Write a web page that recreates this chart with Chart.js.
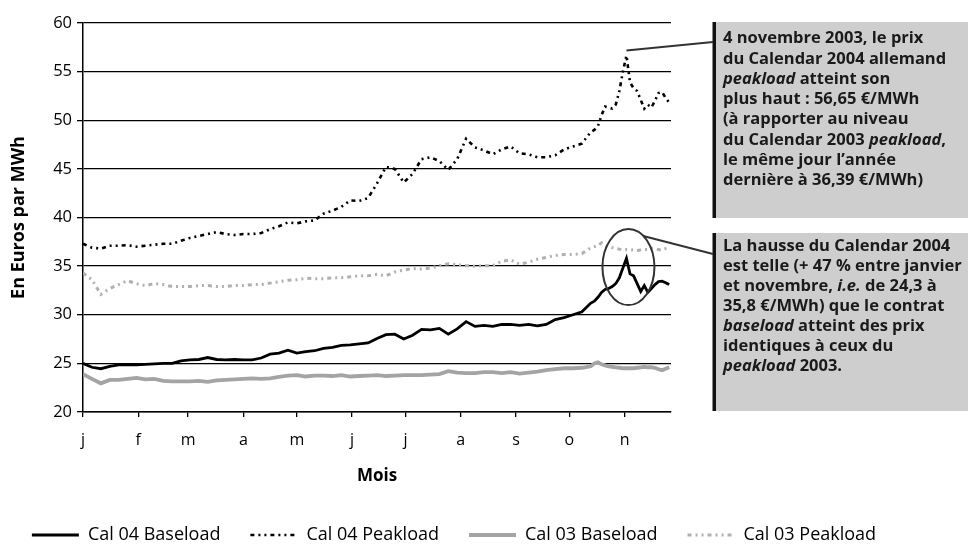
<!DOCTYPE html>
<html>
<head>
<meta charset="utf-8">
<script src="https://cdn.jsdelivr.net/npm/chart.js@4.4.1/dist/chart.umd.min.js"></script>
<style>
  html, body { margin: 0; padding: 0; background: #fff; }
  #chart { display: block; }
</style>
</head>
<body>
<canvas id="chart" width="968" height="546"></canvas>
<script>
// day of year 2003 (0 = 1 Jan)
const days = [
  0, 5, 10, 15, 20, 25, 30, 35, 40, 45,
  50, 55, 60, 65, 70, 75, 80, 85, 90, 95,
  100, 105, 110, 115, 120, 125, 130, 135, 140, 145,
  150, 155, 160, 165, 170, 175, 180, 185, 190, 195,
  200, 205, 210, 215, 220, 225, 230, 235, 240, 245,
  250, 255, 260, 265, 270, 275, 280, 285,
  287, 289, 291, 293, 295, 297, 299, 301, 303, 305,
  307, 309, 311, 313, 315, 317, 319, 321, 323, 325, 327, 329
];

const cal04Base = [
  25.0, 24.6, 24.45, 24.7, 24.85, 24.85, 24.85, 24.9, 24.95, 25.0,
  25.0, 25.25, 25.35, 25.4, 25.6, 25.4, 25.35, 25.4, 25.35, 25.35,
  25.55, 25.95, 26.05, 26.35, 26.05, 26.2, 26.3, 26.55, 26.65, 26.85,
  26.9, 27.0, 27.1, 27.55, 27.95, 28.0, 27.5, 27.9, 28.5, 28.45,
  28.6, 28.0, 28.55, 29.3, 28.8, 28.9, 28.8, 29.0, 29.0, 28.9,
  29.0, 28.85, 29.0, 29.5, 29.7, 30.0, 30.3, 31.2,
  31.4, 31.8, 32.3, 32.6, 32.7, 32.9, 33.2, 33.8, 34.8, 35.8,
  34.2, 34.0, 33.2, 32.4, 33.0, 32.3, 32.7, 33.1, 33.4, 33.45, 33.3, 33.1
];

const cal04Peak = [
  37.3, 36.9, 36.8, 37.1, 37.1, 37.15, 37.0, 37.1, 37.2, 37.3,
  37.3, 37.6, 37.9, 38.1, 38.3, 38.5, 38.3, 38.2, 38.3, 38.3,
  38.4, 38.8, 39.1, 39.5, 39.4, 39.6, 39.7, 40.4, 40.7, 41.1,
  41.75, 41.7, 42.0, 43.5, 45.2, 45.0, 43.6, 44.5, 46.0, 46.2,
  45.8, 44.9, 46.0, 48.1, 47.2, 46.9, 46.5, 47.0, 47.3, 46.6,
  46.5, 46.2, 46.2, 46.4, 47.0, 47.3, 47.6, 48.8,
  49.0, 49.4, 50.5, 51.4, 51.3, 51.2, 51.6, 53.0, 55.0, 56.65,
  53.9, 53.3, 53.0, 52.1, 51.2, 51.6, 51.3, 52.0, 52.8, 52.9, 52.3, 51.8
];

const cal03Base = [
  23.9, 23.4, 22.95, 23.3, 23.3, 23.4, 23.5, 23.35, 23.4, 23.2,
  23.15, 23.15, 23.15, 23.2, 23.1, 23.25, 23.3, 23.35, 23.4, 23.45,
  23.4, 23.45, 23.6, 23.75, 23.8, 23.65, 23.75, 23.75, 23.7, 23.8,
  23.65, 23.7, 23.75, 23.8, 23.7, 23.75, 23.8, 23.8, 23.8, 23.85,
  23.9, 24.2, 24.05, 24.0, 24.0, 24.1, 24.1, 24.0, 24.1, 23.95,
  24.05, 24.15, 24.3, 24.4, 24.5, 24.5, 24.55, 24.7,
  25.0, 25.1, 24.9, 24.8, 24.7, 24.65, 24.6, 24.55, 24.5, 24.5,
  24.5, 24.5, 24.55, 24.6, 24.65, 24.6, 24.6, 24.55, 24.4, 24.3, 24.45, 24.6
];

const cal03Peak = [
  34.3, 33.6, 32.1, 32.7, 33.1, 33.5, 33.2, 33.0, 33.2, 33.1,
  32.9, 32.9, 32.9, 33.0, 33.0, 32.9, 32.9, 33.0, 33.0, 33.1,
  33.1, 33.25, 33.4, 33.55, 33.6, 33.75, 33.7, 33.7, 33.8, 33.8,
  33.9, 34.0, 34.0, 34.15, 34.0, 34.4, 34.6, 34.75, 34.7, 34.8,
  35.05, 35.25, 35.15, 35.05, 35.0, 35.05, 35.05, 35.5, 35.65, 35.2,
  35.4, 35.7, 35.9, 36.1, 36.2, 36.2, 36.3, 36.9,
  37.0, 37.1, 37.4, 37.2, 37.0, 36.9, 36.8, 36.75, 36.65, 36.7,
  36.7, 36.65, 36.6, 36.65, 36.7, 36.7, 36.8, 36.8, 36.7, 36.65, 36.8, 36.9
];

const monthStarts = [0, 31, 59, 90, 120, 151, 181, 212, 243, 273, 304];
const monthLabels = ['j', 'f', 'm', 'a', 'm', 'j', 'j', 'a', 's', 'o', 'n'];

// [text, italic]
const note1 = [
  [['4 novembre 2003, le prix']],
  [['du Calendar 2004 allemand']],
  [['peakload', 1], [' atteint son']],
  [['plus haut : 56,65 €/MWh']],
  [['(à rapporter au niveau']],
  [['du Calendar 2003 '], ['peakload', 1], [',']],
  [['le même jour l’année']],
  [['dernière à 36,39 €/MWh)']]
];
const note2 = [
  [['La hausse du Calendar 2004']],
  [['est telle (+ 47 % entre janvier']],
  [['et novembre, '], ['i.e.', 1], [' de 24,3 à']],
  [['35,8 €/MWh) que le contrat']],
  [['baseload', 1], [' atteint des prix']],
  [['identiques à ceux du']],
  [['peakload', 1], [' 2003.']]
];

const peakDash = [4, 4, 2, 4, 2, 4];

const pts = arr => days.map((d, i) => ({ x: d, y: arr[i] }));

function drawLines(ctx, lines, x, y0, step) {
  lines.forEach((line, i) => {
    let cx = x;
    line.forEach(([txt, it]) => {
      ctx.font = (it ? 'italic ' : '') + 'bold 16.5px "Open Sans"';
      ctx.fillText(txt, cx, y0 + i * step);
      cx += ctx.measureText(txt).width;
    });
  });
}

const notes = {
  id: 'notes',
  afterDraw(chart) {
    const { ctx, scales: { x, y } } = chart;
    ctx.save();
    // boxes
    ctx.fillStyle = '#cecece';
    ctx.fillRect(716, 22, 252, 196);
    ctx.fillRect(716, 233, 252, 178);
    ctx.fillStyle = '#111';
    ctx.fillRect(712.5, 22, 3.5, 196);
    ctx.fillRect(712.5, 233, 3.5, 178);

    ctx.fillStyle = '#1a1a1a';
    ctx.textBaseline = 'middle';
    ctx.textAlign = 'left';
    drawLines(ctx, note1, 723, 38.5, 20.3);
    drawLines(ctx, note2, 723, 246, 20.1);

    // peak of Cal 04 Peakload
    const iPeak = cal04Peak.indexOf(Math.max(...cal04Peak));
    const px = x.getPixelForValue(days[iPeak]);
    const py = y.getPixelForValue(cal04Peak[iPeak]);
    ctx.strokeStyle = '#333';
    ctx.lineWidth = 2;
    ctx.beginPath();
    ctx.moveTo(px, py - 5);
    ctx.lineTo(713, 42);
    ctx.stroke();

    // ellipse round the Cal 04 Baseload peak
    const iB = cal04Base.indexOf(Math.max(...cal04Base));
    const ex = x.getPixelForValue(days[iB]) + 2;
    const ey = y.getPixelForValue(34.9);
    const rx = 26, ry = 38;
    ctx.beginPath();
    ctx.ellipse(ex, ey, rx, ry, 0, 0, Math.PI * 2);
    ctx.stroke();
    ctx.beginPath();
    ctx.moveTo(ex + rx * 0.57, ey - ry * 0.82);
    ctx.lineTo(713, 254);
    ctx.stroke();
    ctx.restore();
  }
};

Chart.defaults.font.family = '"Open Sans", sans-serif';
Chart.defaults.color = '#000';

new Chart(document.getElementById('chart'), {
  type: 'line',
  data: {
    datasets: [{
      label: 'Cal 04 Baseload',
      data: pts(cal04Base),
      borderColor: '#000',
      borderWidth: 2.8
    },
    {
      label: 'Cal 04 Peakload',
      data: pts(cal04Peak),
      borderColor: '#000',
      borderWidth: 2.6,
      borderDash: peakDash
    },
    {
      label: 'Cal 03 Baseload',
      data: pts(cal03Base),
      borderColor: '#a4a4a4',
      borderWidth: 3.8
    },
    {
      label: 'Cal 03 Peakload',
      data: pts(cal03Peak),
      borderColor: '#b0b0b0',
      borderWidth: 3,
      borderDash: peakDash
    }]
  },
  options: {
    responsive: false,
    animation: false,
    devicePixelRatio: 1,
    elements: {
      point: { radius: 0 },
      line: { tension: 0, fill: false, borderCapStyle: 'butt' }
    },
    layout: { padding: { left: 0, right: 60, top: 23, bottom: -8 } },
    scales: {
      x: {
        type: 'linear',
        min: 0,
        max: 330,
        afterBuildTicks: s => { s.ticks = monthStarts.map(v => ({ value: v })); },
        afterFit: s => { s.height = 84; },
        grid: { drawOnChartArea: false, color: '#000', tickLength: 5, lineWidth: 1.3 },
        border: { color: '#000', width: 1.5 },
        ticks: {
          padding: 14,
          font: { size: 16 },
          maxRotation: 0,
          autoSkip: false,
          callback: (v, i) => monthLabels[i]
        },
        title: { display: true, text: 'Mois', font: { size: 17, weight: 'bold' }, padding: { top: 0, bottom: 10 } }
      },
      y: {
        min: 20,
        max: 60,
        afterFit: s => { s.width = 83; },
        ticks: { stepSize: 5, padding: 5, font: { size: 16.5 } },
        grid: { color: '#000', lineWidth: 1.3, tickLength: 6 },
        border: { color: '#000', width: 1.5 },
        title: {
          display: true,
          text: 'En Euros par MWh',
          font: { size: 18, weight: 'bold' },
          padding: { top: 8, bottom: 0 }
        }
      },
      side: {
        type: 'linear',
        position: 'right',
        grid: { display: false },
        border: { display: false },
        ticks: { display: false },
        afterFit: s => { s.width = 237; }
      }
    },
    plugins: {
      legend: {
        position: 'bottom',
        labels: {
          usePointStyle: true,
          pointStyle: 'line',
          pointStyleWidth: 47,
          padding: 30,
          font: { size: 18 },
          color: '#000',
          generateLabels: chart => Chart.defaults.plugins.legend.labels.generateLabels(chart).map(item => {
            const ds = chart.data.datasets[item.datasetIndex];
            item.lineDash = ds.borderDash || [];
            item.lineWidth = ds.borderWidth;
            item.lineCap = 'butt';
            return item;
          })
        }
      },
      tooltip: { enabled: false }
    }
  },
  plugins: [notes]
});
</script>
</body>
</html>
